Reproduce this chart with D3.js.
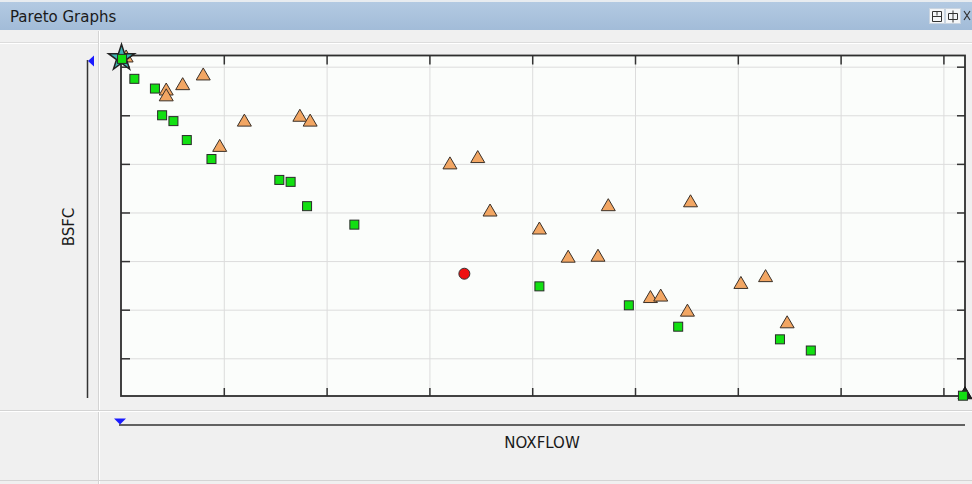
<!DOCTYPE html>
<html>
<head>
<meta charset="utf-8">
<script src="https://cdn.jsdelivr.net/npm/d3@7"></script>
<style>
  html, body { margin: 0; padding: 0; background: #f0f0f0; }
  svg { display: block; }
</style>
</head>
<body>
<svg id="chart" width="972" height="484"></svg>
<script>
// ---- data (axis units; no tick labels shown in the original) ----
const xTickValues = [1, 2, 3, 4, 5, 6, 7, 8];
const yTickValues = [1, 2, 3, 4, 5, 6, 7];
const xDomain = [0, 8.21];
const yDomain = [0.224, 7.23];

const squareX = [0.01, 0.13, 0.33, 0.40, 0.51, 0.64, 0.88, 1.54, 1.65, 1.81, 2.27, 4.07, 4.94, 5.42, 6.41, 6.71, 8.19];
const squareY = [7.16, 6.75, 6.55, 6.00, 5.88, 5.49, 5.10, 4.67, 4.63, 4.13, 3.75, 2.48, 2.09, 1.65, 1.39, 1.16, 0.23];

const triangleX = [0.05, 0.44, 0.44, 0.60, 0.80, 0.96, 1.20, 1.74, 1.84, 3.20, 3.47, 3.59, 4.07, 4.35, 4.64, 4.74, 5.15, 5.25, 5.51, 5.54, 6.03, 6.27, 6.48];
const triangleY = [7.20, 6.52, 6.40, 6.63, 6.83, 5.36, 5.88, 5.98, 5.88, 5.00, 5.13, 4.03, 3.66, 3.08, 3.10, 4.14, 2.25, 2.28, 1.97, 4.22, 2.54, 2.68, 1.73];

const darkTriangleX = [8.21];
const darkTriangleY = [0.27];

const circleX = [3.34];
const circleY = [2.74];

const starX = [0.005];
const starY = [7.18];

const titleText = "Pareto Graphs";
const xLabel = "NOXFLOW";
const yLabel = "BSFC";

// ---- drawing ----
const svg = d3.select("#chart");
const W = 972, H = 484;

const defs = svg.append("defs");
const grad = defs.append("linearGradient").attr("id", "titleGrad").attr("x1", 0).attr("x2", 0).attr("y1", 0).attr("y2", 1);
grad.append("stop").attr("offset", "0%").attr("stop-color", "#b3cae2");
grad.append("stop").attr("offset", "100%").attr("stop-color", "#a2bcd8");

// background
svg.append("rect").attr("width", W).attr("height", H).attr("fill", "#f0f0f0");

// title bar
svg.append("rect").attr("x", 0).attr("y", 0).attr("width", W).attr("height", 2).attr("fill", "#e8ecf0");
svg.append("rect").attr("x", 0).attr("y", 2).attr("width", W).attr("height", 28).attr("fill", "url(#titleGrad)");
svg.append("text").attr("x", 10).attr("y", 22)
  .attr("font-family", "DejaVu Sans, sans-serif").attr("font-size", 15).attr("fill", "#1a1a1a")
  .text(titleText);

// title buttons
const btns = [929, 945];
btns.forEach((bx) => {
  svg.append("rect").attr("x", bx + 0.5).attr("y", 8.5).attr("width", 15).attr("height", 15)
    .attr("fill", "#f4f6f8").attr("stroke", "#c9d4e0");
});
svg.append("path").attr("d", "M932.5,11.5h9v10h-9z M932.5,16.5h9 M937,11.5v4")
  .attr("fill", "none").attr("stroke", "#333").attr("stroke-width", 1);
svg.append("path").attr("d", "M948.5,13.5h9v6h-9z M953,10.5v12")
  .attr("fill", "none").attr("stroke", "#333").attr("stroke-width", 1);
svg.append("path").attr("d", "M964,11 L970,20 M970,11 L964,20")
  .attr("fill", "none").attr("stroke", "#333").attr("stroke-width", 1.2);

// panel separators
svg.append("line").attr("x1", 0).attr("x2", W).attr("y1", 43.5).attr("y2", 43.5).attr("stroke", "#ffffff");
svg.append("line").attr("x1", 0).attr("x2", W).attr("y1", 42.5).attr("y2", 42.5).attr("stroke", "#dcdcdc");
svg.append("line").attr("x1", 98.5).attr("x2", 98.5).attr("y1", 31).attr("y2", H).attr("stroke", "#d4d4d4");
svg.append("line").attr("x1", 99.5).attr("x2", 99.5).attr("y1", 31).attr("y2", H).attr("stroke", "#ffffff");
svg.append("line").attr("x1", 0).attr("x2", W).attr("y1", 410.5).attr("y2", 410.5).attr("stroke", "#d4d4d4");
svg.append("line").attr("x1", 0).attr("x2", W).attr("y1", 411.5).attr("y2", 411.5).attr("stroke", "#ffffff");
svg.append("line").attr("x1", 0).attr("x2", W).attr("y1", 480.5).attr("y2", 480.5).attr("stroke", "#d4d4d4");

// scales
const pLeft = 121, pRight = 965, pTop = 55.5, pBottom = 396;
const x = d3.scaleLinear().domain(xDomain).range([pLeft, pRight]);
const y = d3.scaleLinear().domain(yDomain).range([pBottom, pTop]);

// plot background
svg.append("rect").attr("x", pLeft).attr("y", pTop).attr("width", pRight - pLeft).attr("height", pBottom - pTop)
  .attr("fill", "#fbfdfb");

// gridlines
const gx = svg.append("g").attr("transform", `translate(0,${pBottom})`)
  .call(d3.axisBottom(x).tickValues(xTickValues).tickSize(-(pBottom - pTop)).tickFormat(""));
gx.selectAll(".tick line").attr("stroke", "#dcdcdc");
gx.select(".domain").remove();
const gy = svg.append("g").attr("transform", `translate(${pLeft},0)`)
  .call(d3.axisLeft(y).tickValues(yTickValues).tickSize(-(pRight - pLeft)).tickFormat(""));
gy.selectAll(".tick line").attr("stroke", "#dcdcdc");
gy.select(".domain").remove();

// inward tick marks on all four sides
function ticks(axis, tx, ty) {
  const g = svg.append("g").attr("transform", `translate(${tx},${ty})`).call(axis);
  g.select(".domain").remove();
  g.selectAll(".tick line").attr("stroke", "#333").attr("stroke-width", 1.5);
}
ticks(d3.axisBottom(x).tickValues(xTickValues).tickSize(-8).tickFormat(""), 0, pBottom);
ticks(d3.axisTop(x).tickValues(xTickValues).tickSize(-9).tickFormat(""), 0, pTop);
ticks(d3.axisLeft(y).tickValues(yTickValues).tickSize(-9).tickFormat(""), pLeft, 0);
ticks(d3.axisRight(y).tickValues(yTickValues).tickSize(-8).tickFormat(""), pRight, 0);

// frame
svg.append("rect").attr("x", pLeft).attr("y", pTop).attr("width", pRight - pLeft).attr("height", pBottom - pTop)
  .attr("fill", "none").attr("stroke", "#2e2e2e").attr("stroke-width", 1.8);

// markers
const triPath = "M0,-7 L7,5 L-7,5 Z";
svg.append("g").selectAll("path").data(triangleX.map((v, i) => [v, triangleY[i]])).join("path")
  .attr("d", triPath)
  .attr("transform", d => `translate(${x(d[0])},${y(d[1])})`)
  .attr("fill", "#f2a663").attr("stroke", "#3a3028").attr("stroke-width", 1);

svg.append("g").selectAll("path").data(darkTriangleX.map((v, i) => [v, darkTriangleY[i]])).join("path")
  .attr("d", triPath)
  .attr("transform", d => `translate(${x(d[0])},${y(d[1])})`)
  .attr("fill", "#222").attr("stroke", "#111").attr("stroke-width", 1);

const star = d3.symbol().type(d3.symbolStar).size(210);
svg.append("g").selectAll("path").data(starX.map((v, i) => [v, starY[i]])).join("path")
  .attr("d", star())
  .attr("transform", d => `translate(${x(d[0])},${y(d[1])})`)
  .attr("fill", "#3fb4b4").attr("stroke", "#222").attr("stroke-width", 1.5);

svg.append("g").selectAll("rect").data(squareX.map((v, i) => [v, squareY[i]])).join("rect")
  .attr("x", d => x(d[0]) - 4.5).attr("y", d => y(d[1]) - 4.5)
  .attr("width", 9).attr("height", 9)
  .attr("fill", "#12e012").attr("stroke", "#2a2a2a").attr("stroke-width", 1);

svg.append("g").selectAll("circle").data(circleX.map((v, i) => [v, circleY[i]])).join("circle")
  .attr("cx", d => x(d[0])).attr("cy", d => y(d[1])).attr("r", 5.5)
  .attr("fill", "#ee1111").attr("stroke", "#333").attr("stroke-width", 1);

// y-axis bracket
svg.append("line").attr("x1", 87.5).attr("x2", 87.5).attr("y1", 60).attr("y2", 398)
  .attr("stroke", "#333").attr("stroke-width", 1.5);
svg.append("path").attr("d", "M88,61 L94,55.5 L94,66.5 Z").attr("fill", "#1a1aff");
svg.append("text")
  .attr("transform", "translate(74,227) rotate(-90)")
  .attr("text-anchor", "middle")
  .attr("font-family", "DejaVu Sans, sans-serif").attr("font-size", 15).attr("fill", "#1a1a1a")
  .text(yLabel);

// x-axis bracket
svg.append("line").attr("x1", 119).attr("x2", 965).attr("y1", 425).attr("y2", 425)
  .attr("stroke", "#333").attr("stroke-width", 1.5);
svg.append("path").attr("d", "M114,418.5 L126,418.5 L120,424.5 Z").attr("fill", "#1a1aff");
svg.append("text")
  .attr("x", 542).attr("y", 448)
  .attr("text-anchor", "middle")
  .attr("font-family", "DejaVu Sans, sans-serif").attr("font-size", 15).attr("fill", "#1a1a1a")
  .text(xLabel);
</script>
</body>
</html>
